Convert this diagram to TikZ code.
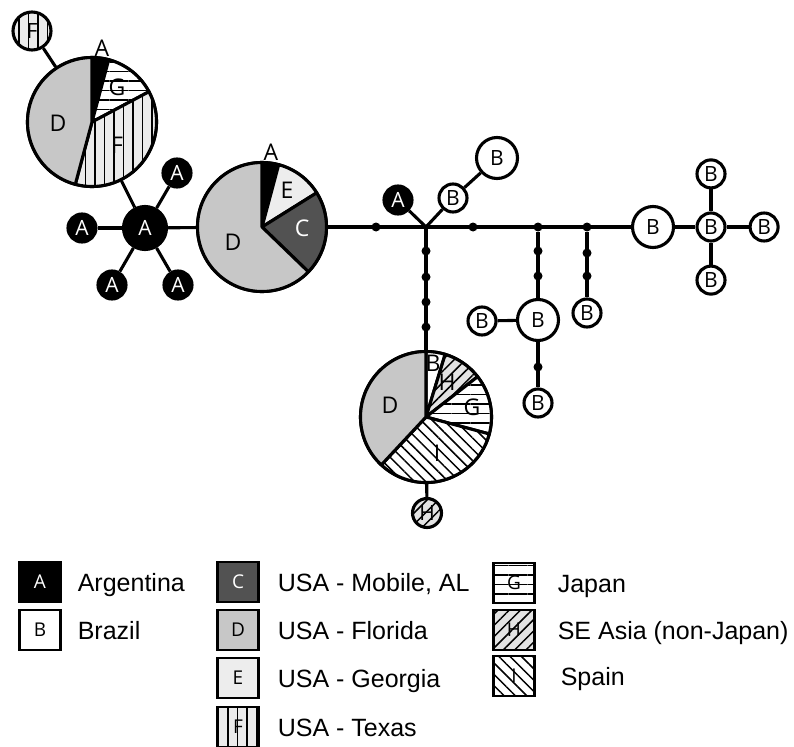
\documentclass[tikz,border=0pt]{standalone}
\usepackage{fontspec}
\setmainfont{Liberation Sans}
\newfontfamily\hapfont{Open Sans}
\usepackage{tikz}
\usetikzlibrary{positioning}
\usetikzlibrary{patterns.meta}

\definecolor{floridagray}{gray}{0.78}
\definecolor{mobilegray}{gray}{0.32}
\definecolor{georgiagray}{gray}{0.93}
\definecolor{texasgray}{gray}{0.92}
\definecolor{asiagray}{gray}{0.89}

\tikzstyle{edge} = [line width=3.1pt]
\tikzstyle{hapA} = [draw, fill=black, circle, inner sep=0pt, minimum size=28pt, line width=3.1pt, text=white, font=\hapfont\fontsize{21}{21}\selectfont]
\tikzstyle{hapB} = [draw, fill=white, circle, inner sep=0pt, minimum size=28pt, line width=3.1pt, font=\hapfont\fontsize{21}{21}\selectfont]
\tikzstyle{dot} = [fill=black, circle, inner sep=0pt, minimum size=9pt]
\tikzstyle{pie} = [draw, circle, inner sep=0pt, minimum size=129pt, line width=3.1pt]
\tikzstyle{slice} = [draw, line width=3.1pt, line join=round]
\tikzstyle{lab} = [font=\hapfont\fontsize{23}{23}\selectfont, inner sep=0pt]
\tikzstyle{stA} = [fill=black]
\tikzstyle{stB} = [fill=white]
\tikzstyle{stC} = [fill=mobilegray]
\tikzstyle{stD} = [fill=floridagray]
\tikzstyle{stE} = [fill=georgiagray]
\tikzstyle{stF} = [preaction={fill=texasgray}, pattern={Lines[angle=90,distance=9.5pt,line width=1.5pt]}]
\tikzstyle{stG} = [preaction={fill=white}, pattern={Lines[angle=0,distance=9.5pt,line width=1.5pt]}]
\tikzstyle{stH} = [preaction={fill=asiagray}, pattern={Lines[angle=45,distance=8pt,line width=1.5pt]}]
\tikzstyle{stI} = [preaction={fill=white}, pattern={Lines[angle=-45,distance=8pt,line width=1.5pt]}]
\tikzstyle{keybox} = [draw, line width=2.2pt, minimum width=41pt, minimum height=40pt, inner sep=0pt, font=\hapfont\fontsize{19}{19}\selectfont]
\tikzstyle{keytext} = [inner sep=0pt, text height=18pt, text depth=0pt, font=\fontsize{25}{25}\selectfont]

% one wedge of a pie: centre, radius, start angle, end angle, style
\newcommand{\pieslice}[5]{\draw[slice, #5] (#1) -- ++(#3:#2) arc[start angle=#3, end angle=#4, radius=#2] -- cycle;}

\begin{document}
\begin{tikzpicture}[x=1pt, y=1pt]
\useasboundingbox (0,0) rectangle (794,-746);

% pies
\coordinate (c1) at (92,-122);
\node[pie] (P1) at (c1) {};
\pieslice{c1}{64.5}{90}{75}{stA}
\pieslice{c1}{64.5}{75}{28}{stG}
\pieslice{c1}{64.5}{28}{-105}{stF}
\pieslice{c1}{64.5}{-105}{-270}{stD}
\node[lab] at (102,-48) {A};
\node[lab] at (117,-87) {G};
\node[lab] at (58,-123) {D};
\node[lab] at (117,-145) {F};

\coordinate (c2) at (262,-227);
\node[pie] (P2) at (c2) {};
\pieslice{c2}{64.5}{90}{75}{stA}
\pieslice{c2}{64.5}{75}{32}{stE}
\pieslice{c2}{64.5}{32}{-44}{stC}
\pieslice{c2}{64.5}{-44}{-270}{stD}
\node[lab] at (271,-152) {A};
\node[lab] at (287,-190) {E};
\node[lab, text=white] at (302,-228) {C};
\node[lab] at (233,-242) {D};

\coordinate (c3) at (426,-417);
\node[pie, minimum size=131pt] (P3) at (c3) {};
\pieslice{c3}{65.5}{90}{73}{stB}
\pieslice{c3}{65.5}{73}{38}{stH}
\pieslice{c3}{65.5}{38}{-15}{stG}
\pieslice{c3}{65.5}{-15}{-133}{stI}
\pieslice{c3}{65.5}{-133}{-270}{stD}
\node[lab] at (433,-363) {B};
\node[lab] at (447,-382) {H};
\node[lab] at (472,-407) {G};
\node[lab] at (390,-405) {D};
\node[lab] at (437,-453) {I};

% haplotype nodes
\node[hapB, stF, minimum size=38pt] (F0) at (32,-31) {F};
\node[hapA, minimum size=43pt] (A0) at (145,-228) {A};
\node[hapA] (A1) at (177,-173) {A};
\node[hapA] (A2) at (82,-228) {A};
\node[hapA] (A3) at (112,-285) {A};
\node[hapA] (A4) at (178,-285) {A};
\node[hapA] (A5) at (398,-200) {A};
\node[hapB] (B1) at (453,-198) {B};
\node[hapB, minimum size=41pt] (B2) at (497,-158) {B};
\node[hapB, minimum size=41pt] (B3) at (538,-320) {B};
\node[hapB] (B4) at (482,-321) {B};
\node[hapB] (B5) at (538,-403) {B};
\node[hapB] (B6) at (587,-313) {B};
\node[hapB, minimum size=41pt] (B7) at (653,-227) {B};
\node[hapB] (B8) at (711,-227) {B};
\node[hapB, above=22pt of B8] (B9) {B};
\node[hapB, below=22pt of B8] (B10) {B};
\node[hapB, right=22pt of B8] (B11) {B};
\node[hapB, stH, minimum size=29pt] (H1) at (427,-513) {H};

% median vectors
\coordinate (J) at (426,-227);
\node[dot] (d1) at (376,-227) {};
\node[dot] (d2) at (473,-227) {};
\node[dot] (d3) at (538,-227) {};
\node[dot] (d4) at (587,-227) {};
\node[dot] (v1) at (426,-251) {};
\node[dot] (v2) at (426,-277) {};
\node[dot] (v3) at (426,-302) {};
\node[dot] (v4) at (426,-327) {};
\node[dot] (s1) at (538,-251) {};
\node[dot] (s2) at (538,-276) {};
\node[dot] (s3) at (538,-367) {};
\node[dot] (t1) at (587,-253) {};
\node[dot] (t2) at (587,-276) {};

% links
\draw[edge] (F0) -- (P1);
\draw[edge] (P1) -- (A0);
\draw[edge] (A0) -- (A1);
\draw[edge] (A0) -- (A2);
\draw[edge] (A0) -- (A3);
\draw[edge] (A0) -- (A4);
\draw[edge] (A0) -- (P2);
\draw[edge] (P2) -- (B7);
\draw[edge] (J) -- (A5);
\draw[edge] (J) -- (B1);
\draw[edge] (B1) -- (B2);
\draw[edge] (J) -- (P3);
\draw[edge] (P3) -- (H1);
\draw[edge] (d3) -- (B3);
\draw[edge] (B4) -- (B3);
\draw[edge] (B3) -- (B5);
\draw[edge] (d4) -- (B6);
\draw[edge] (B7) -- (B8);
\draw[edge] (B8) -- (B9);
\draw[edge] (B8) -- (B10);
\draw[edge] (B8) -- (B11);

% key
\node[keybox, fill=black, text=white] (kA) at (40,-582) {A};
\node[keybox] (kB) at (40,-630) {B};
\node[keybox, stC, text=white] (kC) at (238,-582) {C};
\node[keybox, stD] (kD) at (238,-630) {D};
\node[keybox, stE] (kE) at (238,-678) {E};
\node[keybox, stF] (kF) at (238,-727) {F};
\node[keybox, stG] (kG) at (514,-583) {G};
\node[keybox, stH] (kH) at (514,-630) {H};
\node[keybox, stI] (kI) at (514,-676) {I};
\node[keytext, right=16pt of kA] (tA) {Argentina};
\node[keytext, right=16pt of kB] (tB) {Brazil};
\node[keytext, right=18pt of kC] (tC) {USA - Mobile, AL};
\node[keytext, right=18pt of kD] (tD) {USA - Florida};
\node[keytext, right=18pt of kE] (tE) {USA - Georgia};
\node[keytext, right=18pt of kF] (tF) {USA - Texas};
\node[keytext, right=22pt of kG] (tG) {Japan};
\node[keytext, right=22pt of kH] (tH) {SE Asia (non-Japan)};
\node[keytext, right=25pt of kI] (tI) {Spain};
\end{tikzpicture}
\end{document}
